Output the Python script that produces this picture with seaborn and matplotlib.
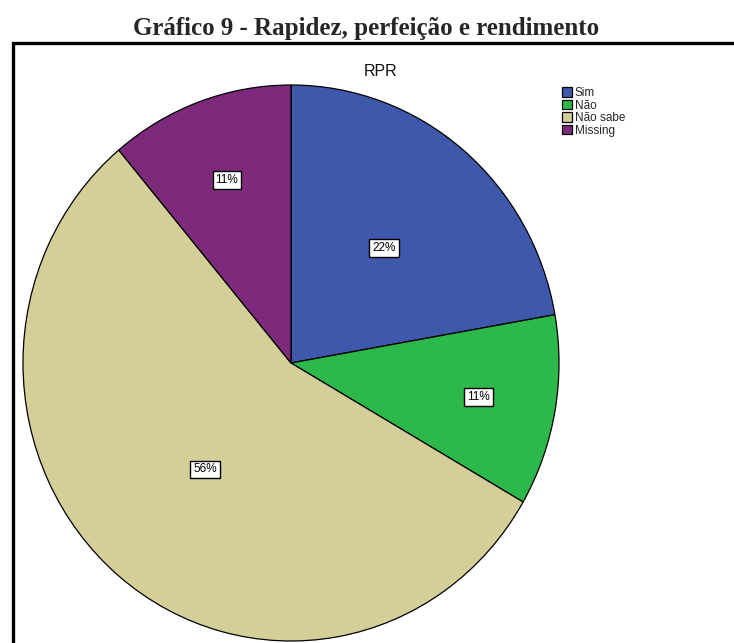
import numpy as np
import matplotlib
matplotlib.use("Agg")
import matplotlib.pyplot as plt
import seaborn as sns
from matplotlib.patches import Rectangle

# dados do gráfico
categorias = ['Sim', 'Não', 'Não sabe', 'Missing']
frequencias = [2, 1, 5, 1]
rotulos = ['22%', '11%', '56%', '11%']
cores = ['#3E58AC', '#2DB84B', '#D4CF98', '#7D2A7C']
raio_rotulo = [0.54, 0.71, 0.50, 0.70]

sns.set_theme(style="white")
plt.rcParams['font.family'] = ['Liberation Sans', 'DejaVu Sans']

W, H = 734, 643
fig = plt.figure(figsize=(W / 100, H / 100), dpi=100)

# título do documento
fig.text(366 / W, 1 - 29 / H, 'Gráfico 9 - Rapidez, perfeição e rendimento',
         ha='center', va='center', fontsize=18, fontweight='bold',
         family=['Liberation Serif', 'DejaVu Serif'])

# moldura preta
fig.patches.append(Rectangle((12.5 / W, -0.1), 1.0, 1 - 43.5 / H + 0.1,
                             transform=fig.transFigure, fill=False,
                             edgecolor='black', linewidth=2.4))

# eixo da pizza (levemente elíptico, como no original)
lim = 1.05
cx, cy, rx, ry = 291, 363, 268, 278
ax = fig.add_axes([(cx - rx * lim) / W, 1 - (cy + ry * lim) / H,
                   2 * rx * lim / W, 2 * ry * lim / H])
wedges, _ = ax.pie(frequencias, colors=cores, startangle=90, counterclock=False,
                   wedgeprops=dict(edgecolor='black', linewidth=0.9))
ax.set_aspect('auto')
ax.set_xlim(-lim, lim)
ax.set_ylim(-lim, lim)
ax.axis('off')

total = sum(frequencias)
inicio = 90.0
for f, txt, r in zip(frequencias, rotulos, raio_rotulo):
    ang = np.deg2rad(inicio - 360 * f / total / 2)
    ax.text(r * np.cos(ang), r * np.sin(ang), txt, ha='center', va='center',
            fontsize=8.5, color='black',
            bbox=dict(boxstyle='square,pad=0.25', facecolor='white',
                      edgecolor='black', linewidth=1.0))
    inicio -= 360 * f / total

fig.text(381 / W, 1 - 72 / H, 'RPR', ha='center', va='center', fontsize=11.5,
         color='#111111')

leg = fig.legend(wedges, categorias, loc='upper left',
                 bbox_to_anchor=(562 / W, 1 - 87 / H), frameon=False,
                 fontsize=8.5, handlelength=0.85, handleheight=0.85,
                 handletextpad=0.25, labelspacing=0.05, borderpad=0,
                 borderaxespad=0)

fig.savefig('out.png', dpi=100)
